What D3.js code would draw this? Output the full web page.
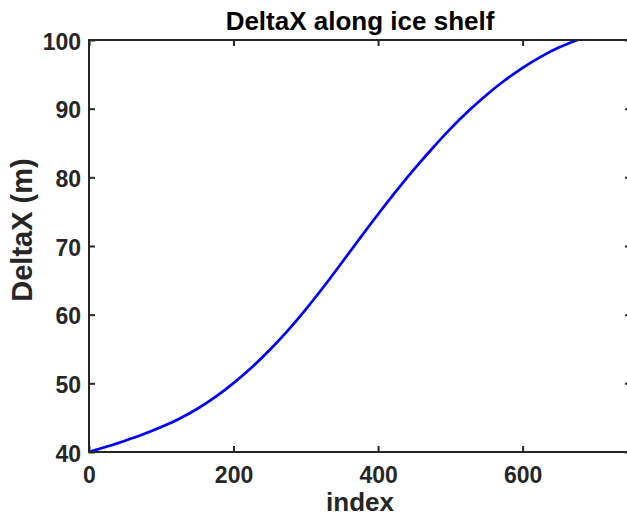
<!DOCTYPE html>
<html>
<head>
<meta charset="utf-8">
<style>
  body { margin: 0; background: #fff; }
  svg { display: block; }
  .tick text { font-family: "Liberation Sans", Arial, sans-serif; font-weight: bold; font-size: 23px; fill: #262626; }
</style>
</head>
<body>
<svg id="chart" width="627" height="518"></svg>
<script src="https://cdn.jsdelivr.net/npm/d3@7"></script>
<script>
  // values
  let index = [0, 25, 50, 75, 100, 125, 150, 175, 200, 225, 250, 275, 300, 325, 350,
               375, 400, 425, 450, 475, 500, 525, 550, 575, 600, 625, 650, 675, 690]
  let deltaX = [40, 40.8, 41.65, 42.58, 43.63, 44.85, 46.3, 48.03, 50.03, 52.3, 54.85, 57.68, 60.78, 64.1, 67.6,
                71.15, 74.63, 77.98, 81.18, 84.2, 87.05, 89.65, 92.0, 94.1, 95.95, 97.55, 98.9, 99.95, 100.5]
  let xTicks = [0, 200, 400, 600]
  let yTicks = [40, 50, 60, 70, 80, 90, 100]

  let svg = d3.select("#chart")
  let mLeft = 89, mRight = 631, mTop = 40, mBottom = 452

  let x = d3.scaleLinear().domain([0, 750]).range([mLeft, mRight])
  let y = d3.scaleLinear().domain([40, 100]).range([mBottom, mTop])

  let axisColor = "#262626"

  function styleAxis(g) {
    g.select(".domain").remove()
    g.selectAll(".tick line").attr("stroke", axisColor).attr("stroke-width", 2)
  }

  // bottom and top
  svg.append("g")
    .attr("transform", `translate(0,${mBottom})`)
    .call(d3.axisBottom(x).tickValues(xTicks).tickSize(-6).tickPadding(15).tickFormat(d3.format("d")))
    .call(styleAxis)
  svg.append("g")
    .attr("transform", `translate(0,${mTop})`)
    .call(d3.axisTop(x).tickValues(xTicks).tickSize(-6).tickFormat(""))
    .call(styleAxis)

  // left and right
  svg.append("g")
    .attr("transform", `translate(${mLeft},0)`)
    .call(d3.axisLeft(y).tickValues(yTicks).tickSize(-6).tickPadding(8).tickFormat(d3.format("d")))
    .call(styleAxis)
    .selectAll(".tick text").attr("dy", "0.4em")
  svg.append("g")
    .attr("transform", `translate(${mRight},0)`)
    .call(d3.axisRight(y).tickValues(yTicks).tickSize(-6).tickFormat(""))
    .call(styleAxis)

  // the curve, clipped to the axes like MATLAB does
  svg.append("clipPath").attr("id", "clip")
    .append("rect")
    .attr("x", mLeft).attr("y", mTop)
    .attr("width", mRight - mLeft).attr("height", mBottom - mTop)

  let line = d3.line()
    .x((d, i) => x(index[i]))
    .y(d => y(d))
    .curve(d3.curveMonotoneX)

  svg.append("path")
    .datum(deltaX)
    .attr("d", line)
    .attr("clip-path", "url(#clip)")
    .attr("fill", "none")
    .attr("stroke", "#0000ff")
    .attr("stroke-width", 2.7)

  // box
  svg.append("rect")
    .attr("x", mLeft).attr("y", mTop)
    .attr("width", mRight - mLeft).attr("height", mBottom - mTop)
    .attr("fill", "none")
    .attr("stroke", axisColor)
    .attr("stroke-width", 2)

  let font = "'Liberation Sans', Arial, sans-serif"

  svg.append("text")
    .attr("x", (mLeft + mRight) / 2).attr("y", 30)
    .attr("text-anchor", "middle")
    .attr("font-family", font).attr("font-weight", "bold").attr("font-size", 26)
    .attr("fill", "#000")
    .text("DeltaX along ice shelf")

  svg.append("text")
    .attr("x", (mLeft + mRight) / 2).attr("y", 511)
    .attr("text-anchor", "middle")
    .attr("font-family", font).attr("font-weight", "bold").attr("font-size", 26)
    .attr("fill", axisColor)
    .text("index")

  svg.append("text")
    .attr("transform", `translate(32,230) rotate(-90)`)
    .attr("text-anchor", "middle")
    .attr("font-family", font).attr("font-weight", "bold").attr("font-size", 29)
    .attr("fill", axisColor)
    .text("DeltaX (m)")
</script>
</body>
</html>
